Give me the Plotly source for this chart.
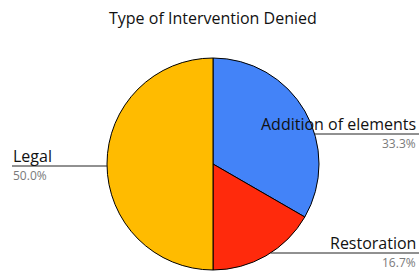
import plotly.graph_objects as go
import math

labels = ["Addition of elements", "Restoration", "Legal"]
values = [2, 1, 3]
colors = ["#4383F8", "#FF2A0C", "#FFBB00"]
title_text = "Type of Intervention Denied"

W, H = 419, 271
CX, CY, R = 213, 164, 106
# label line y (px) and side for each slice
label_y = [134, 253, 166]
label_side = ["right", "right", "left"]

def px(x):
    return x / W

def py(y):
    return 1 - y / H

fig = go.Figure(go.Pie(
    labels=labels, values=values, sort=False, direction="clockwise", rotation=0,
    marker=dict(colors=colors, line=dict(color="#000000", width=1)),
    textinfo="none", hoverinfo="label+percent",
    domain=dict(x=[px(CX - R), px(CX + R)], y=[py(CY + R), py(CY - R)]),
    showlegend=False,
))

total = sum(values)
shapes, annotations = [], []
for lab, v, ly, side in zip(labels, values, label_y, label_side):
    dx = math.sqrt(max(R * R - (ly - CY) ** 2, 0))
    if side == "right":
        x0, x1 = CX + dx, W
        tx, anchor = W - 2, "right"
    else:
        x0, x1 = 12, CX - dx
        tx, anchor = 12, "left"
    shapes.append(dict(type="line", xref="paper", yref="paper",
                       x0=px(x0), x1=px(x1), y0=py(ly), y1=py(ly),
                       line=dict(color="#222222", width=1)))
    annotations.append(dict(text=lab, xref="paper", yref="paper", x=px(tx), y=py(ly + 1.5),
                            xanchor=anchor, yanchor="bottom", showarrow=False,
                            font=dict(family="Open Sans", size=16, color="#111111"),
                            borderpad=0))
    annotations.append(dict(text=f"{v / total * 100:.1f}%", xref="paper", yref="paper",
                            x=px(tx), y=py(ly - 0.5), xanchor=anchor, yanchor="top",
                            showarrow=False, borderpad=0,
                            font=dict(family="Open Sans", size=12, color="#7a7a7a")))

annotations.append(dict(text=title_text, xref="paper", yref="paper", x=px(213), y=py(6),
                        xanchor="center", yanchor="top", showarrow=False, borderpad=0,
                        font=dict(family="Open Sans", size=16, color="#111111")))

fig.update_layout(
    width=W, height=H, margin=dict(l=0, r=0, t=0, b=0),
    paper_bgcolor="white", plot_bgcolor="white",
    shapes=shapes, annotations=annotations,
)
fig.write_html("out.html", config={"displayModeBar": False},
               post_script="document.body.style.margin='0';document.body.style.overflow='hidden';")
